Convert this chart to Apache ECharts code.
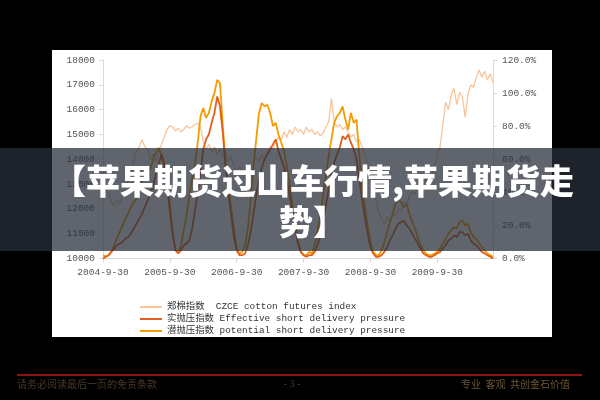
<!DOCTYPE html>
<html><head><meta charset="utf-8">
<script src="https://cdn.jsdelivr.net/npm/echarts@6/dist/echarts.min.js"></script>
<style>html,body{margin:0;padding:0;background:#000;}#c{width:600px;height:400px;}</style>
</head><body><div id="c"></div>
<script>
// x-axis labels shown (yearly)
const tickLabels = ['2004-9-30','2005-9-30','2006-9-30','2007-9-30','2008-9-30','2009-9-30'];
// series names
const names = ['郑棉指数  CZCE cotton futures index','实抛压指数 Effective short delivery pressure','潜抛压指数 potential short delivery pressure'];
// 郑棉指数 (left axis)
const cotton = [
13000,12800,12600,12300,12100,12400,12200,12500,12800,13100,
13500,13900,14300,14500,14800,14500,14400,14000,14200,13900,
14300,14600,14900,15200,15350,15300,15150,15250,15100,15200,
15350,15250,15300,15400,15450,15300,14700,14400,14600,14300,
14500,14200,14400,14100,14300,13900,14100,13700,13500,13700,
13400,13600,13800,13600,13900,14100,13900,14200,14000,14300,
14500,14400,14700,14900,14800,15100,14900,15200,15000,15300,
15100,15200,15000,15300,15100,15200,15000,15100,14950,15050,
15300,15500,16450,15500,15300,15400,15200,15300,15100,14900,
15000,14700,14800,14500,14200,13800,13300,12800,12300,11900,
11600,11400,11700,11500,11800,11700,12000,11900,12300,12200,
12500,12700,12600,12900,13100,12900,13200,13100,13300,13700,
14200,14500,15400,16300,16000,16600,16850,16200,16700,16500,
15700,16600,17000,16900,17300,17600,17300,17550,17200,17450,17100];
// 实抛压指数 (right axis, %)
const effective = [
0,1,2,4,6,8,9,10,12,13,
15,18,21,24,27,31,35,39,44,51,
57,63,58,46,32,16,5,3,5,8,
9,11,18,29,40,52,66,72,75,82,
88,98,92,76,55,40,26,13,5,2,
2,3,8,16,27,38,48,55,60,63,
66,69,72,65,60,55,47,38,28,18,
9,4,2,1,2,2,4,8,14,22,
32,42,52,58,63,67,74,72,75,70,
66,60,48,36,25,15,7,3,1,1,
2,4,7,11,14,18,21,22,23,20,
18,15,12,9,6,3,2,1,1,2,
3,4,6,8,11,12,14,13,16,16,
14,15,11,9,8,6,4,3,2,1,0];
// 潜抛压指数 (right axis, %)
const potential = [
2,1,2,4,8,12,16,20,24,27,
31,34,36,41,46,52,55,54,60,64,
67,62,55,42,28,14,5,4,8,17,
26,38,48,57,70,86,91,85,88,95,
100,108,106,80,58,45,30,18,6,3,
4,8,18,35,55,72,88,94,92,93,
88,80,82,75,70,65,55,45,32,20,
10,4,2,2,4,3,8,16,26,38,
50,62,72,82,86,88,92,84,78,88,
82,84,62,45,32,20,10,4,2,2,
5,10,16,22,27,33,36,34,31,33,
27,22,18,13,8,5,3,2,2,3,
4,6,9,12,15,17,19,18,22,23,
20,21,16,13,12,9,7,5,3,2,1];

// semi-monthly dates starting 2004-9-30
const categories = ['2004-9-30'];
(function(){
  let y = 2004, m = 10;
  while (categories.length < cotton.length) {
    categories.push(y + '-' + m + '-15');
    if (categories.length >= cotton.length) break;
    categories.push(y + '-' + m + '-' + new Date(y, m, 0).getDate());
    m++; if (m > 12) { m = 1; y++; }
  }
})();

const mono = '"Liberation Mono", "Noto Sans CJK SC", monospace';
const showIdx = (i, v) => tickLabels.indexOf(v) >= 0;
const chart = echarts.init(document.getElementById('c'), null, {renderer: 'canvas'});
chart.setOption({
  animation: false,
  backgroundColor: '#000',
  grid: {left: 103, right: 107, top: 60, bottom: 141.5},
  legend: {
    orient: 'vertical', left: 135, top: 296, itemGap: 0, itemWidth: 22, itemHeight: 2,
    icon: 'rect', data: names,
    textStyle: {fontFamily: mono, fontSize: 9.4, color: '#333', lineHeight: 12}
  },
  xAxis: {
    type: 'category', data: categories, boundaryGap: false,
    axisLine: {lineStyle: {color: '#d6d6d6'}},
    axisTick: {interval: showIdx, length: 4, lineStyle: {color: '#d6d6d6'}},
    axisLabel: {interval: showIdx, color: '#555', fontFamily: mono, fontSize: 9.5, margin: 9}
  },
  yAxis: [
    {type: 'value', min: 10000, max: 18000, interval: 1000,
     axisLine: {show: true, lineStyle: {color: '#dcdcdc'}},
     axisTick: {show: true, length: 4, lineStyle: {color: '#dcdcdc'}},
     splitLine: {show: false},
     axisLabel: {color: '#555', fontFamily: mono, fontSize: 9.5, margin: 8,
       formatter: v => String(v)}},
    {type: 'value', min: 0, max: 120, interval: 20, position: 'right',
     axisLine: {show: true, lineStyle: {color: '#dcdcdc'}},
     axisTick: {show: true, length: 4, lineStyle: {color: '#dcdcdc'}},
     splitLine: {show: false},
     axisLabel: {color: '#555', fontFamily: mono, fontSize: 9.5, margin: 9,
       formatter: v => v.toFixed(1) + '%'}}
  ],
  series: [
    {name: names[0], type: 'line', yAxisIndex: 0, data: cotton, symbol: 'none',
     lineStyle: {color: '#f9c497', width: 1.3}, itemStyle: {color: '#f9c497'}},
    {name: names[2], type: 'line', yAxisIndex: 1, data: potential, symbol: 'none',
     lineStyle: {color: '#f59b00', width: 1.8}, itemStyle: {color: '#f59b00'}},
    {name: names[1], type: 'line', yAxisIndex: 1, data: effective, symbol: 'none',
     lineStyle: {color: '#e05f1c', width: 1.8}, itemStyle: {color: '#e05f1c'}}
  ],
  graphic: [
    {type: 'rect', z: -10, shape: {x: 52, y: 50, width: 500, height: 287}, style: {fill: '#fff'}},
    {type: 'rect', z: 100, shape: {x: 0, y: 148, width: 600, height: 103}, style: {fill: 'rgba(40,47,58,0.74)'}},
    {type: 'text', z: 101, style: {x: 313, y: 202, text: '【苹果期货过山车行情,苹果期货走\n势】',
      fill: '#fff', font: '900 34px "Noto Sans CJK SC"', textAlign: 'center', textVerticalAlign: 'middle', lineHeight: 41}},
    {type: 'line', z: 5, shape: {x1: 17, y1: 375, x2: 582, y2: 375}, style: {stroke: '#8e1212', lineWidth: 2}},
    {type: 'text', z: 5, style: {x: 17, y: 384, text: '请务必阅读最后一页的免责条款', fill: '#45382a',
      font: '10px "Noto Sans CJK SC"', textVerticalAlign: 'middle'}},
    {type: 'text', z: 5, style: {x: 292, y: 384, text: '- 3 -', fill: '#45382a',
      font: '10px "Liberation Serif"', textAlign: 'center', textVerticalAlign: 'middle'}},
    {type: 'text', z: 5, style: {x: 570, y: 384, text: '专业  客观  共创金石价值', fill: '#6a5634',
      font: '10px "Noto Sans CJK SC"', textAlign: 'right', textVerticalAlign: 'middle'}}
  ]
});
</script></body></html>
